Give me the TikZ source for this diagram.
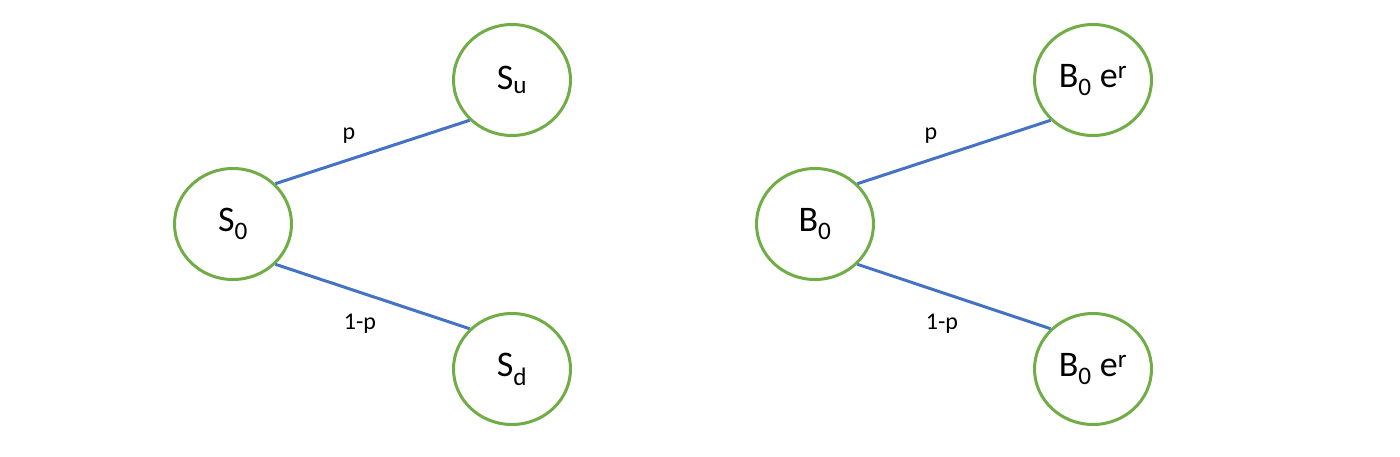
\documentclass[tikz,border=0pt]{standalone}
\usepackage{fontspec}
\setmainfont{Carlito}
\usetikzlibrary{shapes.geometric}
\definecolor{nodegreen}{RGB}{112,173,71}
\definecolor{edgeblue}{RGB}{68,114,196}
\tikzset{
  state/.style={ellipse,draw=nodegreen,line width=3pt,minimum width=117pt,minimum height=111pt,inner sep=0pt,font=\fontsize{36}{40}\selectfont},
  branch/.style={draw=edgeblue,line width=3pt},
  prob/.style={inner sep=0pt,font=\fontsize{24}{28}\selectfont}
}
\begin{document}
\begin{tikzpicture}[x=1pt,y=-1pt]
\useasboundingbox (0,0) rectangle (1400,456);
%% stock tree
\node[state] (s0) at (233,224) {S\textsubscript{0}};
\node[state] (su) at (512,80) {S\textsubscript{u}};
\node[state] (sd) at (512,369) {S\textsubscript{d}};
\draw[branch] (s0.north east) -- (su.south west);
\draw[branch] (s0.south east) -- (sd.north west);
\node[prob] (pu) at (349,136) {p};
\node[prob] (pd) at (360,324) {1-p};
%% bond tree
\node[state] (b0) at (815,224) {B\textsubscript{0}};
\node[state] (bu) at (1093,80) {B\textsubscript{0} e\textsuperscript{r}};
\node[state] (bd) at (1093,369) {B\textsubscript{0} e\textsuperscript{r}};
\draw[branch] (b0.north east) -- (bu.south west);
\draw[branch] (b0.south east) -- (bd.north west);
\node[prob] (qu) at (931,136) {p};
\node[prob] (qd) at (942,324) {1-p};
\end{tikzpicture}
\end{document}
